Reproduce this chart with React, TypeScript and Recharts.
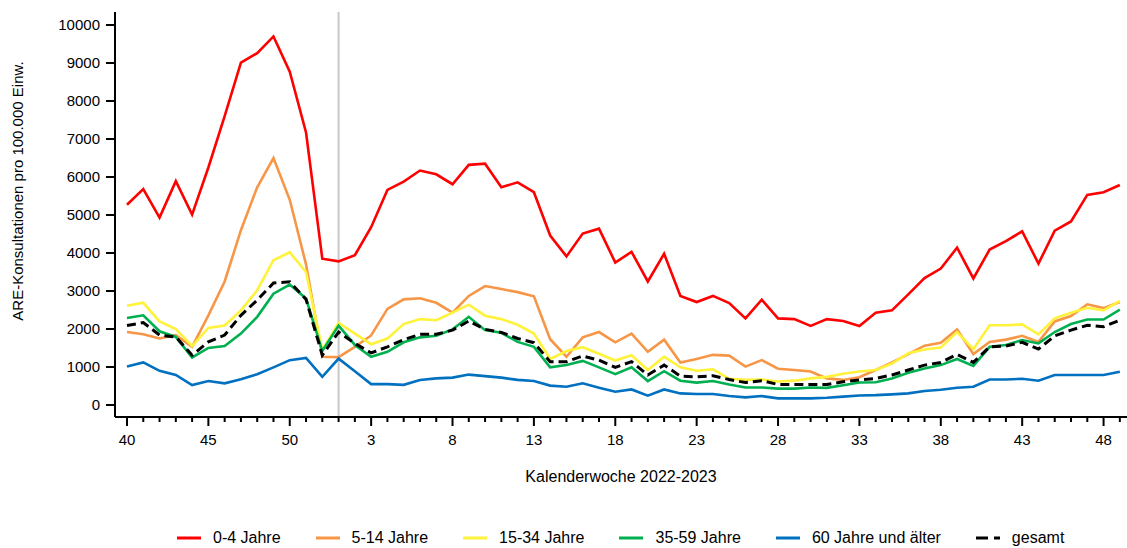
import { LineChart, Line, XAxis, YAxis, ReferenceLine } from "recharts";

const weeks = [
  40, 41, 42, 43, 44, 45, 46, 47, 48, 49, 50, 51, 52,
  1, 2, 3, 4, 5, 6, 7, 8, 9, 10, 11, 12, 13, 14, 15, 16, 17, 18, 19, 20,
  21, 22, 23, 24, 25, 26, 27, 28, 29, 30, 31, 32, 33, 34, 35, 36, 37, 38, 39, 40,
  41, 42, 43, 44, 45, 46, 47, 48, 49,
];

// 0-4 Jahre
const age0to4 = [
  5270, 5680, 4930, 5890, 5010, 6250, 7600, 9010, 9260, 9700, 8770, 7170, 3850,
  3780, 3940, 4680, 5660, 5880, 6170, 6070, 5810, 6320, 6350, 5730, 5860, 5600, 4460, 3910, 4510,
  4640, 3750, 4030, 3250, 3980, 2870, 2710, 2870, 2680, 2280, 2770, 2280, 2260, 2080, 2260, 2210,
  2080, 2430, 2490, 2910, 3340, 3590, 4140, 3330, 4090, 4310, 4570, 3720, 4590, 4830, 5530, 5600, 5790,
];
// 5-14 Jahre
const age5to14 = [
  1920, 1860, 1750, 1840, 1530, 2360, 3250, 4600, 5730, 6500, 5400, 3700, 1270,
  1260, 1530, 1830, 2530, 2780, 2810, 2690, 2430, 2870, 3130, 3050, 2970, 2860, 1730, 1270, 1780,
  1920, 1650, 1880, 1400, 1720, 1120, 1210, 1320, 1300, 1010, 1180, 955, 920, 880, 700, 660,
  730, 920, 1120, 1340, 1560, 1640, 1990, 1340, 1660, 1720, 1820, 1660, 2200, 2340, 2650, 2550, 2710,
];
// 15-34 Jahre
const age15to34 = [
  2610, 2690, 2200, 2000, 1550, 2030, 2090, 2490, 3020, 3810, 4020, 3500, 1440,
  2160, 1880, 1600, 1750, 2130, 2260, 2230, 2430, 2640, 2350, 2260, 2110, 1880, 1210, 1420, 1520,
  1350, 1170, 1310, 920, 1270, 990, 900, 940, 690, 660, 670, 620, 640, 700, 740, 820,
  880, 920, 1090, 1360, 1460, 1510, 1920, 1470, 2100, 2100, 2120, 1860, 2280, 2430, 2560, 2490, 2740,
];
// 35-59 Jahre
const age35to59 = [
  2290, 2360, 1940, 1790, 1250, 1500, 1550, 1880, 2320, 2930, 3170, 2800, 1420,
  2090, 1580, 1270, 1400, 1650, 1780, 1820, 1990, 2320, 1970, 1900, 1660, 1530, 990, 1050, 1160,
  990, 810, 990, 630, 890, 640, 590, 630, 540, 460, 460, 430, 430, 460, 450, 520,
  590, 600, 700, 850, 960, 1050, 1210, 1030, 1530, 1580, 1710, 1620, 1920, 2130, 2250, 2250, 2510,
];
// 60 Jahre und älter
const age60plus = [
  1010, 1120, 900, 790, 525, 630, 570, 680, 810, 990, 1180, 1240, 740,
  1220, 890, 550, 550, 530, 660, 700, 720, 800, 760, 720, 660, 630, 510, 480, 570,
  455, 350, 410, 245, 410, 305, 290, 290, 235, 200, 235, 175, 175, 175, 190, 220,
  250, 260, 280, 305, 370, 400, 455, 480, 670, 670, 690, 640, 790, 790, 790, 790, 875,
];
// gesamt
const total = [
  2090, 2170, 1840, 1790, 1310, 1660, 1840, 2360, 2760, 3210, 3240, 2780, 1310,
  1920, 1620, 1370, 1530, 1720, 1860, 1860, 1970, 2210, 1990, 1910, 1750, 1640, 1140, 1140, 1290,
  1180, 990, 1140, 790, 1050, 760, 740, 770, 670, 590, 640, 540, 540, 540, 540, 610,
  660, 700, 790, 920, 1050, 1120, 1330, 1120, 1530, 1550, 1650, 1470, 1820, 1970, 2100, 2060, 2230,
];

const yTicks = [0, 1000, 2000, 3000, 4000, 5000, 6000, 7000, 8000, 9000, 10000];

const series = [
  { key: "a", name: "0-4 Jahre", color: "#ff0000", values: age0to4 },
  { key: "b", name: "5-14 Jahre", color: "#f79646", values: age5to14 },
  { key: "c", name: "15-34 Jahre", color: "#fff23a", values: age15to34 },
  { key: "d", name: "35-59 Jahre", color: "#00b050", values: age35to59 },
  { key: "e", name: "60 Jahre und älter", color: "#0070c0", values: age60plus },
  { key: "f", name: "gesamt", color: "#000000", values: total, dashed: true },
];

const data = weeks.map((w, i) => {
  const row: Record<string, number> = { i, week: w };
  for (const s of series) row[s.key] = s.values[i];
  return row;
});

const FONT = "Arial, 'Liberation Sans', Helvetica, sans-serif";

function XTick(props: any) {
  const { x, y, payload } = props;
  const idx = payload.value as number;
  const major = idx % 5 === 0;
  return (
    <g>
      <line x1={x} x2={x} y1={y} y2={y + (major ? 9 : 5)} stroke="#000" strokeWidth={2} />
      {major && (
        <text x={x} y={y + 28} textAnchor="middle" fontSize={15} fill="#000" fontFamily={FONT}>
          {weeks[idx]}
        </text>
      )}
    </g>
  );
}

export default function App() {
  return (
    <div style={{ position: "relative", width: 1127, height: 548, fontFamily: FONT, background: "#fff" }}>
      <style>{"body{margin:0}"}</style>
      <LineChart width={1127} height={548} data={data} margin={{ top: 12, right: 0, bottom: 0, left: 0 }}>
        <XAxis
          dataKey="i"
          type="number"
          domain={[-0.737, 61.44]}
          allowDataOverflow
          ticks={weeks.map((_, i) => i)}
          interval={0}
          tickSize={0}
          tickMargin={0}
          tickLine={false}
          tick={<XTick />}
          height={131}
          axisLine={{ stroke: "#000", strokeWidth: 2 }}
        />
        <YAxis
          type="number"
          domain={[-316, 10342]}
          allowDataOverflow
          ticks={yTicks}
          interval={0}
          width={115}
          tickSize={9}
          tickMargin={6}
          tickLine={{ stroke: "#000", strokeWidth: 2 }}
          axisLine={{ stroke: "#000", strokeWidth: 2 }}
          tick={{ fill: "#000", fontSize: 15, fontFamily: FONT }}
        />
        <ReferenceLine x={13} stroke="#c8c8c8" strokeWidth={2} />
        {series.map((s) => (
          <Line
            key={s.key}
            dataKey={s.key}
            type="linear"
            stroke={s.color}
            strokeWidth={s.dashed ? 3 : 2.6}
            strokeDasharray={s.dashed ? "9 5" : undefined}
            dot={false}
            activeDot={false}
            isAnimationActive={false}
          />
        ))}
      </LineChart>

      <div
        style={{
          position: "absolute",
          left: 18 - 160,
          top: 191 - 10,
          width: 320,
          height: 20,
          lineHeight: "20px",
          textAlign: "center",
          fontSize: 15,
          transform: "rotate(-90deg)",
          color: "#000",
        }}
      >
        ARE-Konsultationen pro 100.000 Einw.
      </div>

      <div
        style={{
          position: "absolute",
          left: 115,
          width: 1012,
          top: 467,
          lineHeight: "20px",
          textAlign: "center",
          fontSize: 16,
          color: "#000",
        }}
      >
        Kalenderwoche 2022-2023
      </div>

      <div
        style={{
          position: "absolute",
          left: 177,
          top: 528,
          display: "flex",
          alignItems: "center",
          fontSize: 16,
          lineHeight: "20px",
          color: "#000",
          whiteSpace: "nowrap",
        }}
      >
        {series.map((s) => (
          <div key={s.key} style={{ display: "flex", alignItems: "center", marginRight: 35 }}>
            <svg width={24} height={6} style={{ marginRight: 12 }}>
              <line
                x1={0}
                x2={24}
                y1={3}
                y2={3}
                stroke={s.color}
                strokeWidth={3}
                strokeDasharray={s.dashed ? "12 6" : undefined}
              />
            </svg>
            <span>{s.name}</span>
          </div>
        ))}
      </div>
    </div>
  );
}
